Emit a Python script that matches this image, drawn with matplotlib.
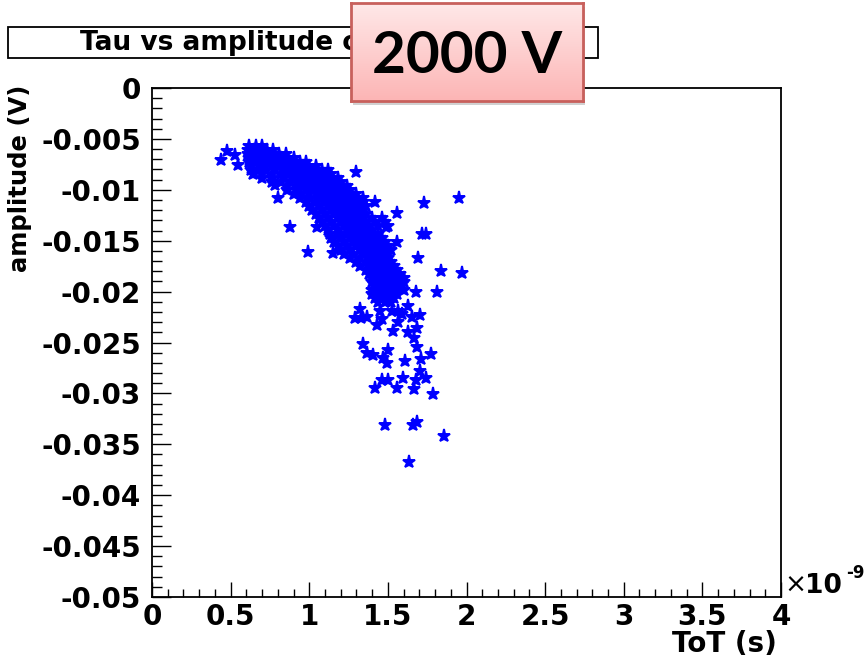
import numpy as np
import matplotlib
matplotlib.use("Agg")
import matplotlib.pyplot as plt
from matplotlib.patches import Rectangle
from matplotlib.ticker import FixedLocator, MultipleLocator

# ---------------- data (ToT in units of 1e-9 s, amplitude in V) ----------------
# dense band, read row by row: amplitude of the row and ToT values in that row
band_amp = [-0.0057, -0.0061, -0.0065, -0.0069, -0.0073, -0.0077, -0.0081, -0.0084,
            -0.0088, -0.0092, -0.0096, -0.0100, -0.0104, -0.0108, -0.0112, -0.0116,
            -0.0120, -0.0124, -0.0128, -0.0132, -0.0136, -0.0139, -0.0143, -0.0147,
            -0.0151, -0.0155, -0.0159, -0.0163, -0.0167, -0.0171, -0.0175, -0.0179,
            -0.0183, -0.0187, -0.0191, -0.0194, -0.0198, -0.0202, -0.0206, -0.0210]
band_tot = [
    [0.62, 0.66, 0.70],
    [0.61, 0.65, 0.69, 0.73, 0.77],
    [0.61, 0.65, 0.69, 0.73, 0.77, 0.81, 0.85],
    [0.62, 0.66, 0.70, 0.74, 0.78, 0.82, 0.86, 0.90],
    [0.62, 0.66, 0.70, 0.74, 0.78, 0.82, 0.86, 0.90, 0.94, 0.98],
    [0.63, 0.68, 0.72, 0.76, 0.80, 0.84, 0.88, 0.92, 0.96, 1.00, 1.04],
    [0.63, 0.68, 0.72, 0.78, 0.84, 0.88, 0.92, 0.96, 1.00, 1.04, 1.08, 1.12],
    [0.64, 0.70, 0.76, 0.82, 0.86, 0.90, 0.94, 0.98, 1.02, 1.06, 1.10, 1.14],
    [0.70, 0.76, 0.84, 0.90, 0.94, 0.98, 1.02, 1.06, 1.10, 1.14, 1.18],
    [0.76, 0.82, 0.88, 0.92, 0.96, 1.00, 1.04, 1.08, 1.12, 1.16, 1.20],
    [0.86, 0.92, 0.96, 1.00, 1.04, 1.08, 1.12, 1.16, 1.20, 1.24],
    [0.86, 0.92, 0.98, 1.02, 1.06, 1.10, 1.14, 1.18, 1.22, 1.26],
    [0.90, 0.95, 1.00, 1.05, 1.10, 1.14, 1.18, 1.22, 1.26, 1.30],
    [0.94, 1.00, 1.06, 1.10, 1.14, 1.18, 1.22, 1.26, 1.30, 1.34],
    [0.98, 1.04, 1.10, 1.14, 1.18, 1.22, 1.26, 1.30, 1.34],
    [1.00, 1.06, 1.12, 1.16, 1.20, 1.24, 1.28, 1.32, 1.36],
    [1.02, 1.08, 1.14, 1.18, 1.22, 1.26, 1.30, 1.34],
    [1.04, 1.10, 1.16, 1.20, 1.24, 1.28, 1.32, 1.36],
    [1.06, 1.12, 1.18, 1.22, 1.26, 1.30, 1.34, 1.40, 1.46],
    [1.08, 1.14, 1.20, 1.24, 1.28, 1.32, 1.36, 1.42, 1.48],
    [1.10, 1.16, 1.22, 1.26, 1.30, 1.34, 1.38, 1.44, 1.50],
    [1.12, 1.18, 1.24, 1.28, 1.32, 1.36, 1.40],
    [1.13, 1.19, 1.24, 1.28, 1.32, 1.36, 1.40, 1.44],
    [1.14, 1.20, 1.26, 1.30, 1.34, 1.38, 1.42, 1.46],
    [1.16, 1.22, 1.28, 1.32, 1.36, 1.40, 1.44, 1.48],
    [1.18, 1.24, 1.30, 1.34, 1.38, 1.42, 1.46, 1.50],
    [1.20, 1.26, 1.32, 1.36, 1.40, 1.44, 1.48, 1.52],
    [1.22, 1.28, 1.34, 1.38, 1.42, 1.46, 1.50],
    [1.26, 1.32, 1.38, 1.42, 1.46, 1.50],
    [1.30, 1.36, 1.40, 1.44, 1.48, 1.52],
    [1.32, 1.38, 1.42, 1.46, 1.50, 1.54],
    [1.36, 1.40, 1.44, 1.48, 1.52, 1.56],
    [1.38, 1.42, 1.46, 1.50, 1.54, 1.58],
    [1.40, 1.44, 1.48, 1.52, 1.56, 1.60],
    [1.40, 1.44, 1.48, 1.52, 1.56, 1.60],
    [1.42, 1.46, 1.50, 1.54, 1.58],
    [1.40, 1.44, 1.48, 1.52, 1.56, 1.60],
    [1.40, 1.44, 1.48, 1.52, 1.56],
    [1.42, 1.46, 1.50, 1.54],
    [1.44, 1.48, 1.52],
]

# isolated points
iso_tot = [0.44, 0.48, 0.53, 0.55, 0.78, 0.80, 0.88, 0.99, 1.05, 1.15,
           1.30, 1.42, 1.56, 1.73, 1.95, 1.49, 1.72, 1.74, 1.56, 1.69,
           1.84, 1.97, 1.68, 1.81]
iso_amp = [-0.0071, -0.0062, -0.0066, -0.0076, -0.0095, -0.0108, -0.0137, -0.0161, -0.0137, -0.0162,
           -0.0083, -0.0112, -0.0123, -0.0113, -0.0108, -0.0137, -0.0143, -0.0143, -0.0151, -0.0167,
           -0.0180, -0.0182, -0.0200, -0.0200]

# lower tail
tail_tot = [1.325, 1.293, 1.331, 1.369, 1.452, 1.465, 1.433, 1.529, 1.567, 1.631,
            1.592, 1.656, 1.707, 1.567, 1.535, 1.631, 1.688, 1.669, 1.688, 1.344,
            1.369, 1.408, 1.503, 1.471, 1.497, 1.611, 1.713, 1.777, 1.707, 1.465,
            1.503, 1.599, 1.682, 1.745, 1.420, 1.561, 1.669, 1.790, 1.484, 1.662,
            1.688, 1.854, 1.637]
tail_amp = [-0.0217, -0.0226, -0.0226, -0.0225, -0.0219, -0.0227, -0.0233, -0.0219, -0.0219, -0.0214,
            -0.0222, -0.0225, -0.0223, -0.0230, -0.0239, -0.0240, -0.0236, -0.0246, -0.0254, -0.0251,
            -0.0260, -0.0262, -0.0257, -0.0265, -0.0270, -0.0268, -0.0266, -0.0261, -0.0278, -0.0287,
            -0.0287, -0.0285, -0.0287, -0.0285, -0.0295, -0.0295, -0.0296, -0.0301, -0.0331, -0.0331,
            -0.0328, -0.0342, -0.0367]

x_ticks = [0, 0.5, 1, 1.5, 2, 2.5, 3, 3.5, 4]
x_labels = ["0", "0.5", "1", "1.5", "2", "2.5", "3", "3.5", "4"]
y_ticks = [0, -0.005, -0.01, -0.015, -0.02, -0.025, -0.03, -0.035, -0.04, -0.045, -0.05]
y_labels = ["0", "-0.005", "-0.01", "-0.015", "-0.02", "-0.025", "-0.03", "-0.035",
            "-0.04", "-0.045", "-0.05"]

title_text = "Tau vs amplitude of signals"
badge_text = "2000 V"

# ---------------- figure ----------------
W, H = 865, 664
fig = plt.figure(figsize=(W / 100, H / 100), dpi=100)
fig.patch.set_facecolor("white")

def fx(px):
    return px / W

def fy(py):
    return 1 - py / H

L, R, T, B = 152, 781, 88, 597
ax = fig.add_axes([fx(L), fy(B), fx(R) - fx(L), fy(T) - fy(B)])

all_tot = [x for row in band_tot for x in row]
all_amp = [a for a, row in zip(band_amp, band_tot) for _ in row]
all_tot += iso_tot + tail_tot
all_amp += iso_amp + tail_amp

ax.plot(all_tot, all_amp, linestyle="none", marker="*", ms=9.5, color=(0, 0, 1),
        markeredgewidth=1.4, markeredgecolor=(0, 0, 1))

ax.set_xlim(0, 4)
ax.set_ylim(-0.05, 0)

bold = dict(family="DejaVu Sans", weight="bold")
ax.xaxis.set_major_locator(FixedLocator(x_ticks))
ax.set_xticklabels(x_labels, fontsize=20, **bold)
ax.xaxis.set_minor_locator(MultipleLocator(0.1))
ax.yaxis.set_major_locator(FixedLocator(y_ticks))
ax.set_yticklabels(y_labels, fontsize=20, **bold)
ax.yaxis.set_minor_locator(MultipleLocator(0.001))

ax.tick_params(axis="x", which="major", direction="in", length=11, width=1.0, pad=4,
               top=False, color="black")
ax.tick_params(axis="x", which="minor", direction="in", length=5.5, width=1.0, top=False)
ax.tick_params(axis="y", which="major", direction="in", length=14, width=1.0, pad=8,
               right=False)
ax.tick_params(axis="y", which="minor", direction="in", length=7, width=1.0, right=False)
for s in ax.spines.values():
    s.set_linewidth(1.3)
    s.set_color("black")

# axis titles
fig.text(fx(777), fy(644), "ToT (s)", ha="right", va="center", fontsize=20, **bold)
fig.text(fx(20), fy(85), "amplitude (V)", ha="center", va="top", rotation=90,
         fontsize=17.5, **bold)
fig.text(fx(784), fy(586), "\u00d7", ha="left", va="center", fontsize=19,
         family="DejaVu Sans")
fig.text(fx(805), fy(586), "10", ha="left", va="center", fontsize=19, **bold)
fig.text(fx(846), fy(573), "-9", ha="left", va="center", fontsize=12, **bold)

# title box
fig.patches.append(Rectangle((fx(8), fy(58)), fx(598) - fx(8), fy(27) - fy(58),
                             transform=fig.transFigure, facecolor="white",
                             edgecolor="black", linewidth=1.3, zorder=3))
fig.text(fx(80), fy(43), title_text, ha="left", va="center", fontsize=19, zorder=4, **bold)

# badge with shadow and gradient
bx0, bx1, by0, by1 = 351, 583, 3, 101
fig.patches.append(Rectangle((fx(bx0 + 2), fy(by1 + 4)), fx(bx1) - fx(bx0), fy(by0) - fy(by1),
                             transform=fig.transFigure, facecolor=(0, 0, 0, 0.18),
                             edgecolor="none", zorder=8))
bax = fig.add_axes([fx(bx0), fy(by1), fx(bx1) - fx(bx0), fy(by0) - fy(by1)], zorder=10)
top_c = np.array([1.0, 0.91, 0.91])
bot_c = np.array([0.99, 0.71, 0.71])
t = np.linspace(0, 1, 64)[:, None, None]
grad = top_c * (1 - t) + bot_c * t
grad = np.repeat(grad, 4, axis=1)
bax.imshow(grad, aspect="auto", extent=[0, 1, 0, 1], origin="upper")
bax.set_xticks([])
bax.set_yticks([])
for s in bax.spines.values():
    s.set_color("#c8605c")
    s.set_linewidth(2)
bax.text(0.5, 0.45, badge_text, ha="center", va="center", fontsize=42,
         family="Lato", weight="bold", transform=bax.transAxes)

fig.savefig("out.png", dpi=100)
